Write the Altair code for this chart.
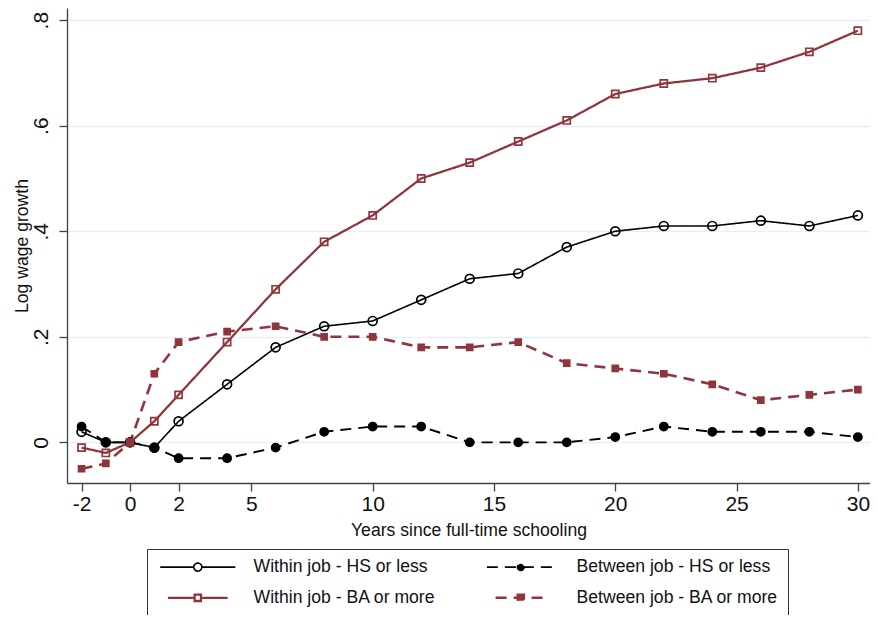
import altair as alt
import pandas as pd

# ---------------- data ----------------
years = [-2, -1, 0, 1, 2, 4, 6, 8, 10, 12, 14, 16, 18, 20, 22, 24, 26, 28, 30]
within_hs = [0.02, 0.0, 0.0, -0.01, 0.04, 0.11, 0.18, 0.22, 0.23, 0.27, 0.31, 0.32,
             0.37, 0.40, 0.41, 0.41, 0.42, 0.41, 0.43]
between_hs = [0.03, 0.0, 0.0, -0.01, -0.03, -0.03, -0.01, 0.02, 0.03, 0.03, 0.0, 0.0,
              0.0, 0.01, 0.03, 0.02, 0.02, 0.02, 0.01]
within_ba = [-0.01, -0.02, 0.0, 0.04, 0.09, 0.19, 0.29, 0.38, 0.43, 0.50, 0.53, 0.57,
             0.61, 0.66, 0.68, 0.69, 0.71, 0.74, 0.78]
between_ba = [-0.05, -0.04, 0.0, 0.13, 0.19, 0.21, 0.22, 0.20, 0.20, 0.18, 0.18, 0.19,
              0.15, 0.14, 0.13, 0.11, 0.08, 0.09, 0.10]

series_order = ["Within job - HS or less", "Between job - HS or less",
                "Within job - BA or more", "Between job - BA or more"]
x_ticks = [-2, 0, 2, 5, 10, 15, 20, 25, 30]
y_ticks = [0, 0.2, 0.4, 0.6, 0.8]

# ---------------- styles ----------------
BLACK = "#000000"
CRAN = "#90353B"
colors = [BLACK, BLACK, CRAN, CRAN]
fills = ["transparent", BLACK, "transparent", CRAN]
dashes = [[1, 0], [11, 7], [1, 0], [11, 7]]
line_widths = [1.6, 2.6, 1.6, 2.6]
marker_sizes = [80, 36, 90, 70]
legend_paths = [
    "M-8.4,0L-0.9,0M0.9,0L8.4,0M-0.9,0A0.9,0.9,0,1,0,0.9,0A0.9,0.9,0,1,0,-0.9,0Z",
    "M-8.4,0L8.4,0M-0.8,0A0.8,0.8,0,1,0,0.8,0A0.8,0.8,0,1,0,-0.8,0Z",
    "M-8.4,0L-0.9,0M0.9,0L8.4,0M-0.9,-0.9L0.9,-0.9L0.9,0.9L-0.9,0.9Z",
    "M-8.4,0L8.4,0M-1,-1L1,-1L1,1L-1,1Z",
]
FONT = "Liberation Sans"

rows = []
for name, vals in zip(series_order, [within_hs, between_hs, within_ba, between_ba]):
    for x, v in zip(years, vals):
        rows.append({"years": x, "growth": v, "series": name})
df = pd.DataFrame(rows)

x_enc = alt.X(
    "years:Q",
    scale=alt.Scale(domain=[-2.6, 30.5], nice=False, zero=False),
    axis=alt.Axis(
        values=x_ticks, labelExpr="'' + datum.value",
        title="Years since full-time schooling", grid=False,
        tickSize=8, tickColor="#404040", tickWidth=1.3,
        domainColor="#404040", domainWidth=1.3,
        labelFontSize=21, labelFont=FONT, labelColor="#111111", labelPadding=2,
        labelFlush=False, labelOverlap=False,
        titleFontSize=17.6, titleFont=FONT, titleColor="#111111",
        titleFontWeight="normal", titleY=38, titleBaseline="top",
    ),
)
y_enc = alt.Y(
    "growth:Q",
    scale=alt.Scale(domain=[-0.077, 0.823], nice=False, zero=False),
    axis=alt.Axis(
        values=y_ticks,
        labelExpr="datum.value == 0 ? '0' : replace(format(datum.value, '.1f'), '0.', '.')",
        title="Log wage growth", grid=True, gridColor="#e7eff1", gridWidth=1.5,
        tickSize=8, tickColor="#404040", tickWidth=1.3,
        domainColor="#404040", domainWidth=1.3,
        labelFontSize=21, labelFont=FONT, labelColor="#111111",
        labelAngle=270, labelAlign="center", labelBaseline="alphabetic",
        labelPadding=12, labelFlush=False, labelOverlap=False,
        titleFontSize=17.6, titleFont=FONT, titleColor="#111111",
        titleFontWeight="normal", titleAngle=270, titleX=-40,
        titleBaseline="alphabetic", titleAlign="center",
    ),
)

color_scale = alt.Scale(domain=series_order, range=colors)
fill_scale = alt.Scale(domain=series_order, range=fills)
dash_scale = alt.Scale(domain=series_order, range=dashes)
width_scale = alt.Scale(domain=series_order, range=line_widths)

legend_spec = alt.Legend(
    title=None, orient="none", legendX=80, legendY=541, columns=2,
    direction="horizontal",
    padding=9, strokeColor="#333333",
    rowPadding=12, columnPadding=43,
    symbolOffset=33, labelOffset=47,
    labelFontSize=17.6, labelFont=FONT, labelColor="#111111", labelLimit=400,
    symbolSize=100,
)

base = alt.Chart(df)

lines = base.mark_line().encode(
    x=x_enc, y=y_enc,
    color=alt.Color("series:N", scale=color_scale, legend=legend_spec),
    strokeDash=alt.StrokeDash("series:N", scale=dash_scale, legend=legend_spec),
    strokeWidth=alt.StrokeWidth("series:N", scale=width_scale, legend=legend_spec),
)

def markers(shape, names):
    return base.mark_point(shape=shape, opacity=1, strokeWidth=1.7).encode(
        x=x_enc, y=y_enc,
        color=alt.Color("series:N", scale=color_scale, legend=legend_spec),
        fill=alt.Fill("series:N", scale=fill_scale, legend=legend_spec),
        size=alt.Size("series:N", scale=alt.Scale(domain=series_order, range=marker_sizes),
                      legend=None),
    ).transform_filter(alt.FieldOneOfPredicate(field="series", oneOf=names))

circles = markers("circle", series_order[:2])
squares = markers("square", series_order[2:])

# legend-only layer (no rows drawn), carries the legend symbol shapes
legend_layer = base.mark_point(opacity=1, size=100).encode(
    x=x_enc, y=y_enc,
    color=alt.Color("series:N", scale=color_scale, legend=legend_spec),
    fill=alt.Fill("series:N", scale=fill_scale, legend=legend_spec),
    shape=alt.Shape("series:N", scale=alt.Scale(domain=series_order, range=legend_paths),
                    legend=legend_spec),
    strokeDash=alt.StrokeDash("series:N", scale=dash_scale, legend=legend_spec),
    strokeWidth=alt.StrokeWidth("series:N", scale=width_scale, legend=legend_spec),
).transform_filter("datum.years > 1000")

chart = alt.layer(lines, circles, squares, legend_layer).properties(
    width=803, height=475,
    padding={"left": 59, "top": 0, "right": 0, "bottom": 132},
    autosize=alt.AutoSizeParams(type="none"),
    background="white",
).configure_view(stroke="transparent")

chart.save("out.html", embed_options={"renderer": "svg", "actions": False})
